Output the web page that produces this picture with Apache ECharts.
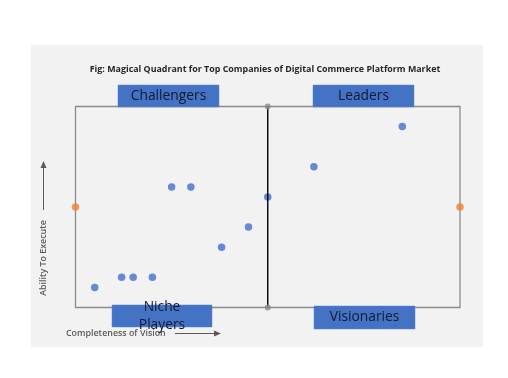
<!DOCTYPE html>
<html>
<head>
<meta charset="utf-8">
<script src="https://cdn.jsdelivr.net/npm/echarts@6/dist/echarts.min.js"></script>
<style>html,body{margin:0;padding:0;background:#fff}#c{width:508px;height:378px}</style>
</head>
<body>
<div id="c"></div>
<script>
// Data (Completeness of Vision, Ability To Execute), 0..10 scale
const vision  = [8.5, 6.2, 2.5, 3.0, 5.0, 4.5, 3.8, 0.5, 1.2, 1.5, 2.0];
const execute = [9.0, 7.0, 6.0, 6.0, 5.5, 4.0, 3.0, 1.0, 1.5, 1.5, 1.5];
const midX = [0, 10];
const midY = [5, 5];
const dividerX = [5, 5];
const dividerY = [0, 10];
const axisMin = 0, axisMax = 10;
const quadrantLabels = ['Challengers', 'Leaders', 'Niche\nPlayers', 'Visionaries'];
const titleText = 'Fig: Magical Quadrant for Top Companies of Digital Commerce Platform Market';
const xTitle = 'Completeness of Vision';
const yTitle = 'Ability To Execute';

const zip = (a, b) => a.map((v, i) => [v, b[i]]);

const chart = echarts.init(document.getElementById('c'), null, {renderer: 'canvas'});

const boxes = [
  {x: 118, y: 85, w: 101, h: 22, text: quadrantLabels[0], dy: 0},
  {x: 313, y: 85, w: 101, h: 22, text: quadrantLabels[1], dy: 0},
  {x: 112, y: 305, w: 100, h: 22, text: quadrantLabels[2], dy: 0},
  {x: 314, y: 306, w: 101, h: 23, text: quadrantLabels[3], dy: 0}
];

const graphics = [
  {type: 'rect', z: -10, shape: {x: 31, y: 45, width: 452, height: 302}, style: {fill: '#f2f2f2'}},
  {type: 'text', z: 100, x: 265, y: 69, style: {text: titleText, font: 'bold 8.9px "Open Sans"', fill: '#262626', textAlign: 'center', textVerticalAlign: 'middle'}}
];
boxes.forEach(b => {
  graphics.push({type: 'rect', z: 100, shape: {x: b.x, y: b.y, width: b.w, height: b.h}, style: {fill: '#4472C4', stroke: '#5b84cf', lineWidth: 0.5}});
  graphics.push({type: 'text', z: 101, x: b.x + b.w / 2, y: b.y + b.h / 2 + b.dy, style: {text: b.text, font: '13.8px "Open Sans"', lineHeight: 18, fill: '#111a30', textAlign: 'center', textVerticalAlign: 'middle'}});
});
// axis titles with arrows
graphics.push({type: 'text', z: 100, x: 66, y: 333, style: {text: xTitle, font: '600 8.9px "Open Sans"', fill: '#595959', textAlign: 'left', textVerticalAlign: 'middle'}});
graphics.push({type: 'line', z: 100, shape: {x1: 175, y1: 333.5, x2: 215, y2: 333.5}, style: {stroke: '#595959', lineWidth: 1}});
graphics.push({type: 'polygon', z: 100, shape: {points: [[214, 330.5], [221, 333.5], [214, 336.5]]}, style: {fill: '#595959'}});
graphics.push({type: 'text', z: 100, x: 43.5, y: 258, rotation: Math.PI / 2, style: {text: yTitle, font: '600 8.9px "Open Sans"', fill: '#595959', textAlign: 'center', textVerticalAlign: 'middle'}});
graphics.push({type: 'line', z: 100, shape: {x1: 43.5, y1: 210, x2: 43.5, y2: 167}, style: {stroke: '#595959', lineWidth: 1}});
graphics.push({type: 'polygon', z: 100, shape: {points: [[40.5, 168], [43.5, 161], [46.5, 168]]}, style: {fill: '#595959'}});

chart.setOption({
  backgroundColor: '#ffffff',
  animation: false,
  grid: {left: 75.5, top: 106.5, width: 384.5, height: 201, show: true, borderColor: '#8a8a8a', borderWidth: 1.3, backgroundColor: 'transparent'},
  xAxis: {type: 'value', min: axisMin, max: axisMax, show: false},
  yAxis: {type: 'value', min: axisMin, max: axisMax, show: false},
  graphic: {elements: graphics},
  series: [
    {type: 'scatter', data: zip(vision, execute), symbolSize: 7.5, clip: false, z: 3, itemStyle: {color: '#3f6fcf'}},
    {type: 'line', data: zip(dividerX, dividerY), symbol: 'none', z: 5, lineStyle: {color: '#000000', width: 1.4}},
    {type: 'scatter', data: zip(dividerX, dividerY), symbolSize: 6, clip: false, z: 6, itemStyle: {color: '#8c8c8c'}},
    {type: 'scatter', data: zip(midX, midY), symbolSize: 7.5, clip: false, z: 6, itemStyle: {color: '#F07F2F'}}
  ]
});
</script>
</body>
</html>
